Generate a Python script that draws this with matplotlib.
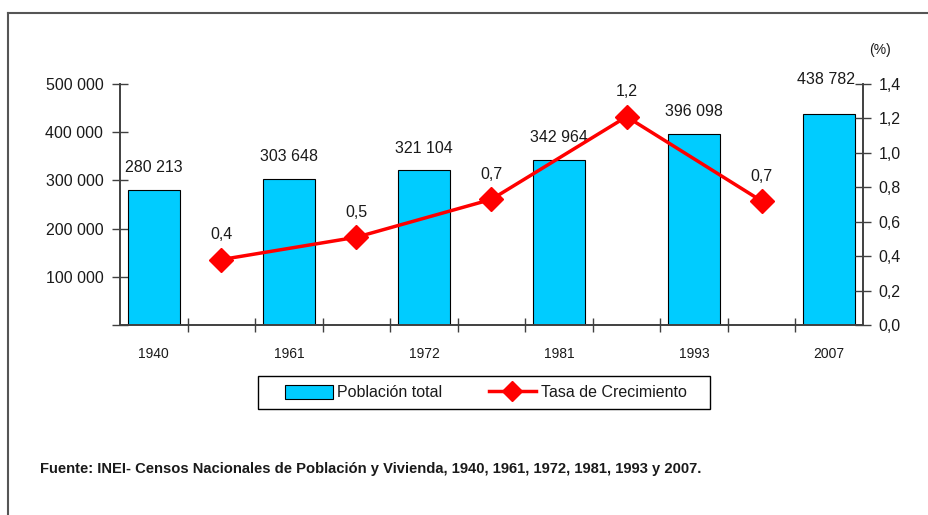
import matplotlib
matplotlib.use("Agg")
import matplotlib.pyplot as plt
from matplotlib.lines import Line2D
from matplotlib.patches import Patch, Rectangle

# data
years = ["1940", "1961", "1972", "1981", "1993", "2007"]
poblacion = [280213, 303648, 321104, 342964, 396098, 438782]
tasa = [0.38, 0.51, 0.73, 1.21, 0.72]

plt.rcParams["font.family"] = ["Liberation Sans", "DejaVu Sans"]
dark = "#404040"
txt = "#1a1a1a"
cyan = "#00CCFF"
red = "#FF0000"

W, H = 929, 515
fig = plt.figure(figsize=(W / 100, H / 100), dpi=100)

def fx(px):
    return px / W

def fy(py):
    return 1 - py / H

ax = fig.add_axes([fx(120), fy(325), fx(863) - fx(120), fy(84) - fy(325)])
ax2 = ax.twinx()

# bars at even slots, growth rate between them
bar_x = [2 * i for i in range(len(years))]
line_x = [2 * i + 1 for i in range(len(tasa))]

ax.bar(bar_x, poblacion, width=0.77, color=cyan, edgecolor="black", linewidth=0.8, zorder=2)
ax.set_xlim(-0.5, 10.5)
ax.set_ylim(0, 500000)
ax.set_yticks(range(0, 500001, 100000))
ax.set_yticklabels([""] + ["{:,}".format(v).replace(",", " ") for v in range(100000, 500001, 100000)])

ax.set_xticks([i + 0.5 for i in range(10)])
ax.set_xticklabels([])
ax.set_xticks(bar_x, minor=True)
ax.set_xticklabels(years, minor=True, fontsize=10, color=txt)
ax.tick_params(axis="x", which="major", direction="inout", length=10, width=1, color=dark)
ax.tick_params(axis="x", which="minor", length=0, pad=16)
ax.tick_params(axis="y", direction="inout", length=12, width=1, color=dark, labelsize=11.5,
               labelcolor=txt, pad=6)

ax.spines["top"].set_visible(False)
ax2.spines["top"].set_visible(False)
for s in ["left", "bottom", "right"]:
    for a in (ax, ax2):
        a.spines[s].set_color(dark)
        a.spines[s].set_linewidth(1.2)

for i, (x, v) in enumerate(zip(bar_x, poblacion)):
    lab = "{:,}".format(v).replace(",", " ")
    if i == len(poblacion) - 1:
        ax.annotate(lab, (x, 500000), xytext=(-2, 3), textcoords="offset points",
                    ha="center", va="center", fontsize=11.5, color=txt)
    else:
        ax.annotate(lab, (x, v), xytext=(0, 16), textcoords="offset points",
                    ha="center", va="center", fontsize=11.5, color=txt)

ax2.plot(line_x, tasa, color=red, linewidth=2.5, marker="D", markersize=12, zorder=3)
ax2.set_ylim(0, 1.4)
ax2.set_yticks([i * 0.2 for i in range(8)])
ax2.set_yticklabels(["{:.1f}".format(i * 0.2).replace(".", ",") for i in range(8)])
ax2.tick_params(axis="y", direction="inout", length=12, width=1, color=dark, labelsize=11.5,
                labelcolor=txt, pad=5)
for x, v in zip(line_x, tasa):
    ax2.annotate("{:.1f}".format(v).replace(".", ","), (x, v), xytext=(0, 18),
                 textcoords="offset points", ha="center", va="center",
                 fontsize=11.5, color=txt)

fig.text(fx(880), fy(50), "(%)", ha="center", va="center", fontsize=10, color=txt)

# legend
fig.patches.append(Rectangle((fx(258), fy(409)), fx(710) - fx(258), fy(376) - fy(409),
                             transform=fig.transFigure, fill=False, edgecolor="black", linewidth=1))
handles = [Patch(facecolor=cyan, edgecolor="black", linewidth=0.8),
           Line2D([], [], color=red, linewidth=2.5, marker="D", markersize=10)]
fig.legend(handles, ["Población total", "Tasa de Crecimiento"], loc="center",
           bbox_to_anchor=(fx(486), fy(392.5)), ncol=2, frameon=False,
           prop={"size": 11.5}, handlelength=2.95, labelcolor=txt,
           handleheight=1.0, handletextpad=0.3, columnspacing=2.9)

fig.text(fx(40), fy(469), "Fuente: INEI- Censos Nacionales de Población y Vivienda, 1940, 1961, 1972, 1981, 1993 y 2007.",
         ha="left", va="center", fontsize=10.6, fontweight="bold", color=txt)

# outer frame
fig.add_artist(Line2D([fx(8), fx(8)], [fy(13), 0], color="#555555", linewidth=1.5))
fig.add_artist(Line2D([fx(8), 1], [fy(13), fy(13)], color="#555555", linewidth=1.5))

plt.savefig("out.png", dpi=100)
